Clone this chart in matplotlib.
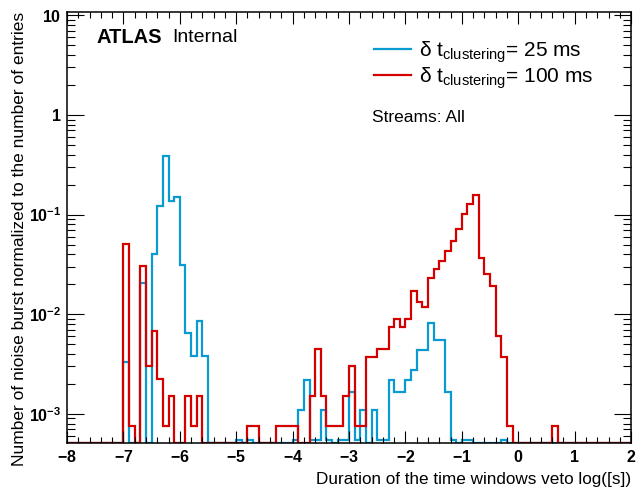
import numpy as np
import matplotlib
matplotlib.use('Agg')
import matplotlib.pyplot as plt
from matplotlib.ticker import MultipleLocator, LogLocator, FuncFormatter, NullFormatter
from matplotlib.lines import Line2D

plt.rcParams['font.family'] = ['Liberation Sans', 'DejaVu Sans']
plt.rcParams['mathtext.fontset'] = 'custom'
plt.rcParams['mathtext.rm'] = 'Liberation Sans'
plt.rcParams['mathtext.bf'] = 'Liberation Sans:bold'
plt.rcParams['mathtext.it'] = 'Liberation Sans:italic'

# histogram binning: 100 bins of 0.1 from -8 to 2, data filled from -7.0 to 0.8
x_lo, x_hi, n_bins = -8.0, 2.0, 100
first_bin = -7.0

# delta t_clustering = 25 ms (normalized entries per bin)
blue_vals = [
    0.0033, 0, 0, 0.0205, 0, 0.0403, 0.122, 0.39, 0.137, 0.151,
    0.0313, 0.0065, 0.0038, 0.0086, 0.0038, 0, 0, 0, 0, 0,
    0.00055, 0, 0.00055, 0, 0, 0, 0, 0, 0, 0,
    0.00055, 0.0011, 0.0022, 0.00055, 0.00055, 0.0011, 0.00055, 0, 0.00055, 0.00055,
    0.00165, 0.00055, 0.0011, 0, 0.0011, 0.00055, 0.00055, 0.0022, 0.00165, 0.00165,
    0.0022, 0.00275, 0.0044, 0.0044, 0.00825, 0.0055, 0.0055, 0.00165, 0.00055, 0,
    0.00055, 0.00055, 0, 0, 0, 0, 0, 0.00055, 0, 0,
    0, 0, 0, 0, 0, 0, 0, 0,
]

# delta t_clustering = 100 ms
red_vals = [
    0.0507, 0.00075, 0, 0.0305, 0.003, 0.0068, 0.00225, 0.00075, 0.0015, 0,
    0, 0.0015, 0.00075, 0.0015, 0, 0, 0, 0, 0, 0,
    0, 0, 0.00075, 0.00075, 0, 0, 0, 0.00075, 0.00075, 0.00075,
    0.00075, 0, 0, 0.0015, 0.0045, 0.0015, 0.00075, 0.00075, 0.00075, 0.0015,
    0.003, 0.00075, 0.00075, 0.00375, 0.00375, 0.0045, 0.0045, 0.0075, 0.009, 0.0075,
    0.009, 0.0173, 0.0134, 0.0119, 0.0230, 0.0283, 0.0345, 0.0434, 0.0543, 0.0713,
    0.101, 0.127, 0.157, 0.0365, 0.0252, 0.0192, 0.00605, 0.00375, 0.00075, 0,
    0, 0, 0, 0, 0, 0, 0.00075, 0,
]

labels = ['δ t$_{\\mathrm{clustering}}$= 25 ms',
          'δ t$_{\\mathrm{clustering}}$= 100 ms']
colors = ['#0a9ad2', '#d40000']

ymin, ymax = 5.1e-4, 10.8

edges = np.linspace(x_lo, x_hi, n_bins + 1)
offset = int(round((first_bin - x_lo) / 0.1))


def full(vals):
    h = np.zeros(n_bins)
    h[offset:offset + len(vals)] = vals
    return np.clip(h, ymin, None)


fig = plt.figure(figsize=(6.41, 4.94), dpi=100)
ax = fig.add_axes([0.1045, 0.1032, 0.8800, 0.8725])

for vals, c in zip([blue_vals, red_vals], colors):
    ax.stairs(full(vals), edges, color=c, lw=1.6)

ax.set_yscale('log')
ax.set_xlim(x_lo, x_hi)
ax.set_ylim(ymin, ymax)

ax.xaxis.set_major_locator(MultipleLocator(1))
ax.xaxis.set_minor_locator(MultipleLocator(0.2))
ax.yaxis.set_major_locator(LogLocator(base=10, numticks=10))
ax.yaxis.set_minor_locator(LogLocator(base=10, subs=np.arange(2, 10), numticks=20))
ax.yaxis.set_minor_formatter(NullFormatter())


def xfmt(v, pos):
    return r'$\mathbf{%d}$' % int(round(v))


def yfmt(v, pos):
    e = int(round(np.log10(v)))
    if e == 0:
        return r'$\mathbf{1}$'
    if e == 1:
        return r'$\mathbf{10}$'
    return r'$\mathbf{10^{%d}}$' % e


ax.xaxis.set_major_formatter(FuncFormatter(xfmt))
ax.yaxis.set_major_formatter(FuncFormatter(yfmt))

ax.tick_params(which='both', direction='in', top=True, right=True, width=0.8,
               labelsize=11.5, pad=4)
ax.xaxis.set_tick_params(which='major', length=8.5)
ax.xaxis.set_tick_params(which='minor', length=4.2)
ax.yaxis.set_tick_params(which='major', length=12)
ax.yaxis.set_tick_params(which='minor', length=6)
for s in ax.spines.values():
    s.set_linewidth(1.1)

ax.set_xlabel('Duration of the time windows veto log([s])', fontsize=12.3, loc='right')
ax.xaxis.set_label_coords(1.0, -0.068)
ax.set_ylabel('Number of nioise burst normalized to the number of entries',
              fontsize=12.5, loc='top')
ax.yaxis.set_label_coords(-0.07, 1.0)

ax.text(0.053, 0.94, 'ATLAS', transform=ax.transAxes, fontsize=14.5,
        fontweight='bold', va='center')
ax.text(0.186, 0.94, 'Internal', transform=ax.transAxes, fontsize=14, va='center')

handles = [Line2D([], [], color=c, lw=1.6) for c in colors]
ax.legend(handles, labels, loc='upper left', bbox_to_anchor=(0.545, 0.937),
          frameon=False, fontsize=15, handlelength=1.75, handletextpad=0.4,
          labelspacing=0.03, borderpad=0, borderaxespad=0)

ax.text(0.541, 0.756, 'Streams: All', transform=ax.transAxes, fontsize=12.5,
        va='center')

fig.savefig('out.png', dpi=100)
